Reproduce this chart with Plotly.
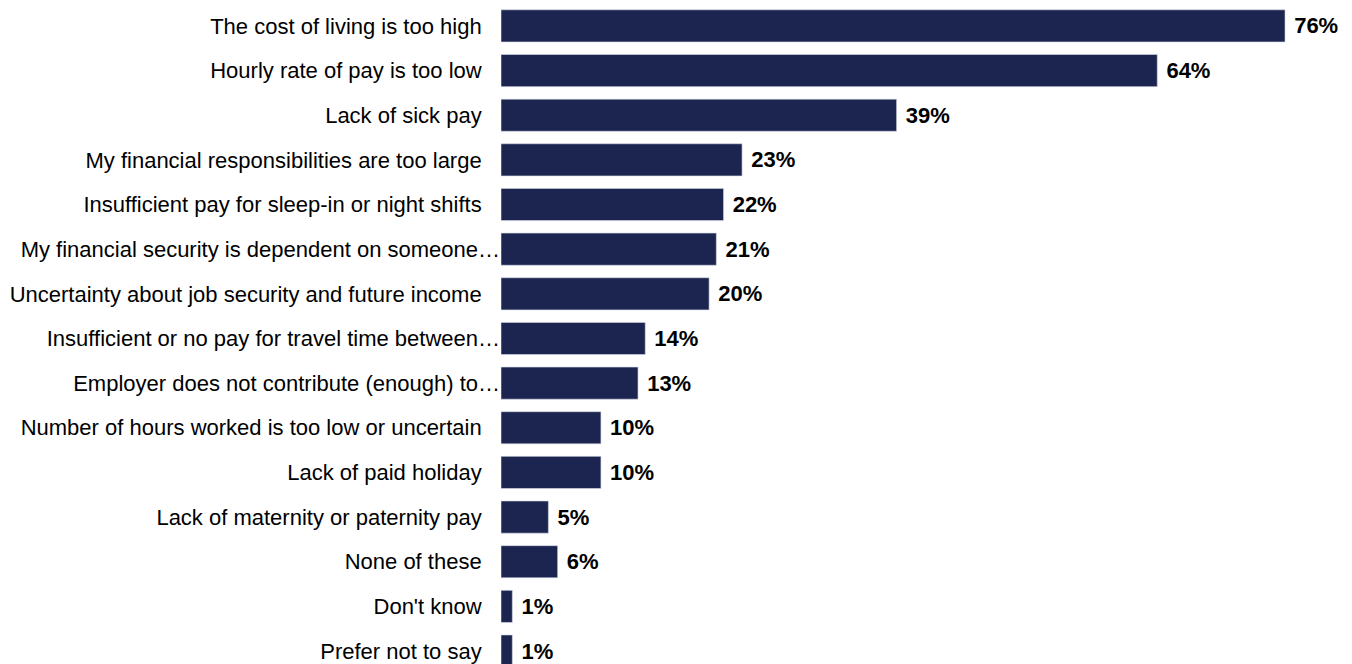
import plotly.graph_objects as go

categories = [
    "The cost of living is too high",
    "Hourly rate of pay is too low",
    "Lack of sick pay",
    "My financial responsibilities are too large",
    "Insufficient pay for sleep-in or night shifts",
    "My financial security is dependent on someone…",
    "Uncertainty about job security and future income",
    "Insufficient or no pay for travel time between…",
    "Employer does not contribute (enough) to…",
    "Number of hours worked is too low or uncertain",
    "Lack of paid holiday",
    "Lack of maternity or paternity pay",
    "None of these",
    "Don't know",
    "Prefer not to say",
]
# bar lengths (percent)
values = [76.1, 63.7, 38.4, 23.4, 21.6, 20.9, 20.2, 14.0, 13.3, 9.7, 9.7, 4.6, 5.5, 1.1, 1.1]
# printed labels
value_labels = ["76%", "64%", "39%", "23%", "22%", "21%", "20%", "14%", "13%",
                "10%", "10%", "5%", "6%", "1%", "1%"]

BAR_COLOR = "#1b2550"
FONT = "Liberation Sans, Arial, sans-serif"

# truncated labels (ending in an ellipsis) run right up to the bars
tick_text = [c if c.endswith("…") else c + "\u00a0\u00a0\u00a0" for c in categories]

fig = go.Figure(
    go.Bar(
        x=values,
        y=categories,
        orientation="h",
        marker=dict(color=BAR_COLOR, line=dict(color="#d9dbe6", width=0.6)),
        text=["\u00a0" + t for t in value_labels],
        textposition="outside",
        textfont=dict(family=FONT, size=22, color="#000000", weight="bold"),
        cliponaxis=False,
        hoverinfo="skip",
    )
)

fig.update_layout(
    width=1352,
    height=664,
    margin=dict(l=501, r=0, t=0, b=0, autoexpand=False),
    paper_bgcolor="white",
    plot_bgcolor="white",
    bargap=0.28,
    showlegend=False,
    font=dict(family=FONT, size=22, color="#000000"),
)
fig.update_xaxes(
    range=[0, 82.6],
    showgrid=False,
    zeroline=False,
    showticklabels=False,
    showline=False,
    fixedrange=True,
)
fig.update_yaxes(
    categoryorder="array",
    categoryarray=categories,
    tickmode="array",
    tickvals=categories,
    ticktext=tick_text,
    range=[14.29, -0.58],
    showgrid=False,
    zeroline=False,
    showline=False,
    ticks="",
    ticklabelstandoff=0,
    tickfont=dict(family=FONT, size=22, color="#000000"),
    automargin=False,
    fixedrange=True,
)

fig.write_html(
    "out.html",
    config={"displayModeBar": False},
    post_script="document.body.style.margin='0';document.body.style.overflow='hidden';",
)
